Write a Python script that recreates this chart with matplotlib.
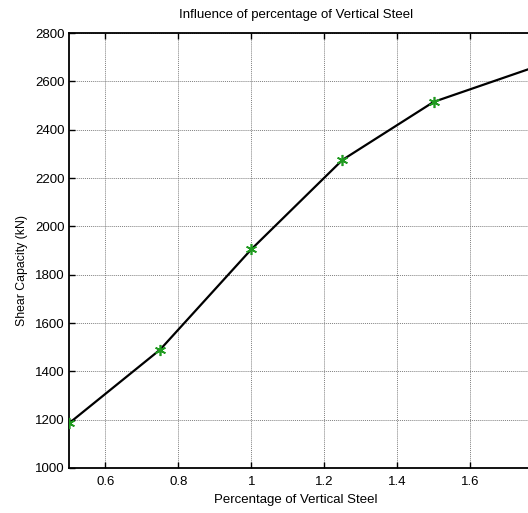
import matplotlib
matplotlib.use("Agg")
import matplotlib.pyplot as plt

# data (no marker shows at 1.75, the
# segment after 1.5 runs straight on past the cropped right edge)
steel_pct = [0.5, 0.75, 1.0, 1.25, 1.5, 2.0]
shear_kn = [1185, 1490, 1905, 2275, 2515, 2775]
x_ticks = [0.6, 0.8, 1.0, 1.2, 1.4, 1.6, 1.8, 2.0]
x_tick_labels = ["0.6", "0.8", "1", "1.2", "1.4", "1.6", "", ""]
y_ticks = [1000, 1200, 1400, 1600, 1800, 2000, 2200, 2400, 2600, 2800]

plt.rcParams["font.family"] = ["Liberation Sans", "DejaVu Sans"]

fig = plt.figure(figsize=(5.28, 5.13), dpi=100)
# the axes run past the right edge, as in the cropped reference
ax = fig.add_axes([69 / 528, 45 / 513, 547 / 528, 435 / 513])

ax.plot(steel_pct, shear_kn, color="black", linewidth=1.6, zorder=3)
ax.plot(steel_pct, shear_kn, linestyle="none", marker=(6, 2, 0), color="#1f9a1f",
        markersize=8, markeredgewidth=1.2, zorder=4)

ax.set_xlim(0.5, 2.0)
ax.set_ylim(1000, 2800)
ax.set_xticks(x_ticks)
ax.set_xticklabels(x_tick_labels)
ax.set_yticks(y_ticks)
ax.tick_params(direction="in", length=4, width=1, labelsize=9.5, top=True, right=True)
ax.tick_params(axis="y", pad=3)
ax.tick_params(axis="x", pad=6)
for sp in ax.spines.values():
    sp.set_linewidth(1.3)

ax.grid(True, color="#808080", linestyle=(0, (1, 1)), linewidth=0.7)

# title and labels sit where the reference has them (centred on the visible part)
fig.text(296 / 528, 1 - 15 / 513, "Influence of percentage of Vertical Steel",
         fontsize=9.5, ha="center", va="center")
fig.text(296 / 528, 1 - 500 / 513, "Percentage of Vertical Steel",
         fontsize=9.5, ha="center", va="center")
fig.text(22 / 528, 1 - 270 / 513, "Shear Capacity (kN)",
         fontsize=8.8, ha="center", va="center", rotation=90)

fig.savefig("out.png", dpi=100)
